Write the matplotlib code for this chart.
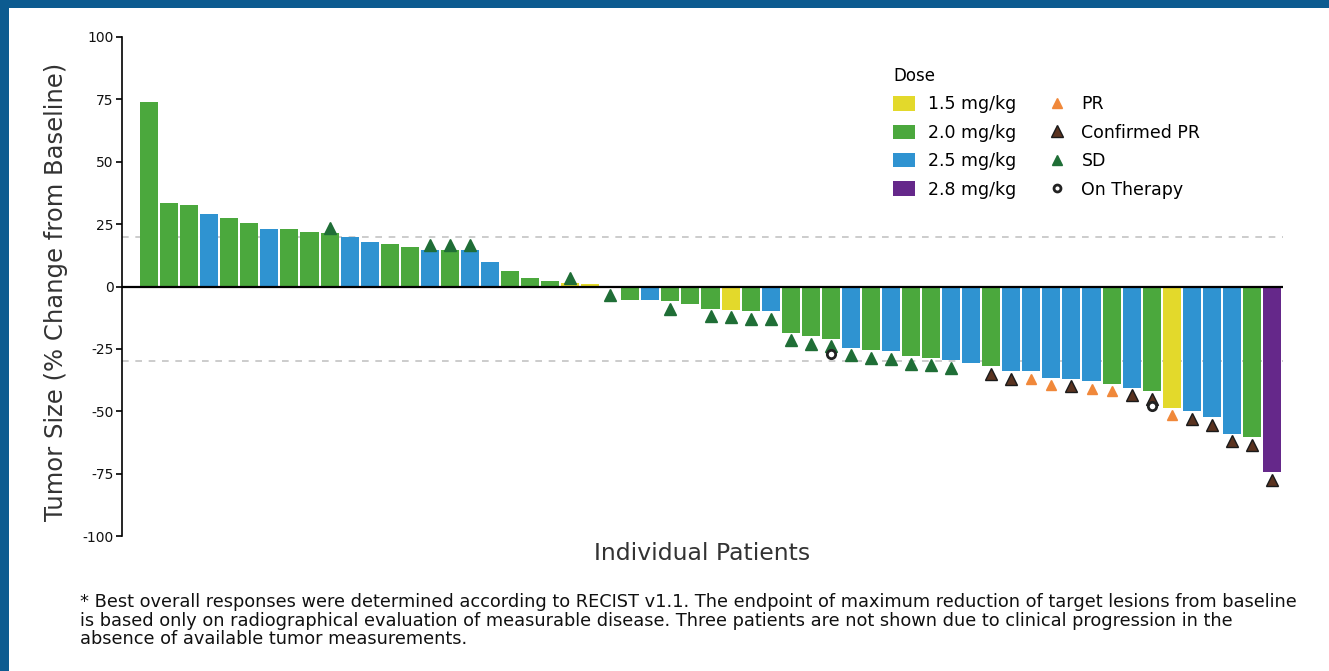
import matplotlib
matplotlib.use("Agg")
import matplotlib.pyplot as plt
from matplotlib.patches import Patch, Rectangle
from matplotlib.lines import Line2D

# ---------------- data ----------------
values = [74, 33.5, 32.5, 29, 27.5, 25.5, 23, 23, 22, 21.5,
          19.7, 18, 17, 16, 14.5, 14.5, 14.5, 10, 6.3, 3.6,
          2.4, 1.5, 1, -0.5, -5.6, -5.6, -6, -7, -9, -9.4,
          -10, -10, -18.5, -20, -21, -24.5, -25.5, -26, -28, -28.5,
          -29.5, -30.5, -32, -34, -34, -36.5, -37, -38, -39, -40.5,
          -42, -48.5, -50, -52.5, -59, -60.5, -74.5]
doses = ["2.0", "2.0", "2.0", "2.5", "2.0", "2.0", "2.5", "2.0", "2.0", "2.0",
         "2.5", "2.5", "2.0", "2.0", "2.5", "2.0", "2.5", "2.5", "2.0", "2.0",
         "2.0", "1.5", "1.5", "2.0", "2.0", "2.5", "2.0", "2.0", "2.0", "1.5",
         "2.0", "2.5", "2.0", "2.0", "2.0", "2.5", "2.0", "2.5", "2.0", "2.0",
         "2.5", "2.5", "2.0", "2.5", "2.5", "2.5", "2.5", "2.5", "2.0", "2.5",
         "2.0", "1.5", "2.5", "2.5", "2.5", "2.0", "2.8"]
responses = ["", "", "", "", "", "", "", "", "", "SD",
             "", "", "", "", "SD", "SD", "SD", "", "", "",
             "", "SD", "", "SD", "", "", "SD", "", "SD", "SD",
             "SD", "SD", "SD", "SD", "SD", "SD", "SD", "SD", "SD", "SD",
             "SD", "", "CPR", "CPR", "PR", "PR", "CPR", "PR", "PR", "CPR",
             "CPR", "PR", "CPR", "CPR", "CPR", "CPR", "CPR"]
on_therapy = [34, 50]  # zero-based patient indices

dose_labels = ["1.5 mg/kg", "2.0 mg/kg", "2.5 mg/kg", "2.8 mg/kg"]
dose_keys = ["1.5", "2.0", "2.5", "2.8"]
response_labels = ["PR", "Confirmed PR", "SD", "On Therapy"]
yticks = [-100, -75, -50, -25, 0, 25, 50, 75, 100]
thresholds = [20, -30]

footnote = ("* Best overall responses were determined according to RECIST v1.1. The endpoint of maximum reduction of target lesions from baseline\n"
            "is based only on radiographical evaluation of measurable disease. Three patients are not shown due to clinical progression in the\n"
            "absence of available tumor measurements.")

# ---------------- styles ----------------
dose_colors = {"1.5": "#e3d92b", "2.0": "#4ba83d", "2.5": "#2f93d1", "2.8": "#65288a"}
resp_style = {
    "PR": dict(marker="^", color="#f0883a", mec="#f0883a", ms=7),
    "CPR": dict(marker="^", color="#5a3320", mec="#1a1a1a", ms=9),
    "SD": dict(marker="^", color="#1f6e36", mec="#1f6e36", ms=8),
}

FONT = ["DejaVu Sans"]
plt.rcParams["font.family"] = FONT

fig = plt.figure(figsize=(13.29, 6.71), dpi=100)
fig.patch.set_facecolor("white")
# blue frame
border = "#0c5b90"
fig.patches.append(Rectangle((0, 1 - 8 / 671), 1, 8 / 671, transform=fig.transFigure,
                             facecolor=border, edgecolor="none", zorder=-5))
fig.patches.append(Rectangle((0, 0), 9 / 1329, 1, transform=fig.transFigure,
                             facecolor=border, edgecolor="none", zorder=-5))

ax = fig.add_axes([122 / 1329, 1 - 536 / 671, (1283 - 122) / 1329, (536 - 37) / 671])

x = list(range(len(values)))
colors = [dose_colors[d] for d in doses]
ax.bar(x, values, width=0.9, color=colors, edgecolor="none", zorder=2)

for y in thresholds:
    ax.axhline(y, color="#c4c4c4", lw=1.2, ls=(0, (4, 4)), zorder=1)
ax.axhline(0, color="black", lw=1.6, zorder=3)

for i, (v, r) in enumerate(zip(values, responses)):
    if r:
        pos = v + 2.0 if v > 0 else v - 3.0
        st = resp_style[r]
        ax.plot(i, pos, ls="none", marker=st["marker"], color=st["color"],
                mec=st["mec"], ms=st["ms"], mew=1.0, zorder=4)
for i in on_therapy:
    ax.plot(i, values[i] - 6.0, ls="none", marker="o", mfc="white", mec="#222222",
            ms=6, mew=2.0, zorder=4)

ax.set_xlim(-1.35, len(values) - 1 + 0.55)
ax.set_ylim(-100, 100)
ax.set_yticks(yticks)
ax.set_yticklabels([str(t) for t in yticks], fontsize=10, color="#111111")
ax.set_xticks([])
for s in ["top", "right", "bottom"]:
    ax.spines[s].set_visible(False)
ax.spines["left"].set_linewidth(1.2)
ax.tick_params(axis="y", length=4, width=1.2, pad=2)
ax.set_ylabel("Tumor Size (% Change from Baseline)", fontsize=17.5, color="#333333", labelpad=8)
ax.yaxis.set_label_coords((68 - 122) / (1283 - 122), 0.49)
ax.set_xlabel("Individual Patients", fontsize=16.9, color="#333333", labelpad=4)

# legend
dose_handles = [Patch(facecolor=dose_colors[k], edgecolor="none") for k in dose_keys]
resp_handles = [
    Line2D([], [], ls="none", marker="^", color=resp_style["PR"]["color"], ms=7),
    Line2D([], [], ls="none", marker="^", color=resp_style["CPR"]["color"],
           mec=resp_style["CPR"]["mec"], ms=8),
    Line2D([], [], ls="none", marker="^", color=resp_style["SD"]["color"], ms=7),
    Line2D([], [], ls="none", marker="o", mfc="white", mec="#222222", ms=5, mew=2),
]
leg = ax.legend(dose_handles + resp_handles, dose_labels + response_labels,
                ncol=2, title="Dose", frameon=False, fontsize=12.5, title_fontsize=12,
                loc="upper left", bbox_to_anchor=((893 - 122) / (1283 - 122), 1 - (67 - 37) / (536 - 37)),
                handlelength=1.26, handleheight=0.9, labelspacing=0.6, columnspacing=1.75,
                handletextpad=0.75, alignment="left", borderaxespad=0, borderpad=0)

fig.text(80 / 1329, 1 - 593 / 671, footnote, fontsize=12.8, va="top", ha="left",
         linespacing=1.05, color="#111111")

fig.savefig("out.png", dpi=100)
